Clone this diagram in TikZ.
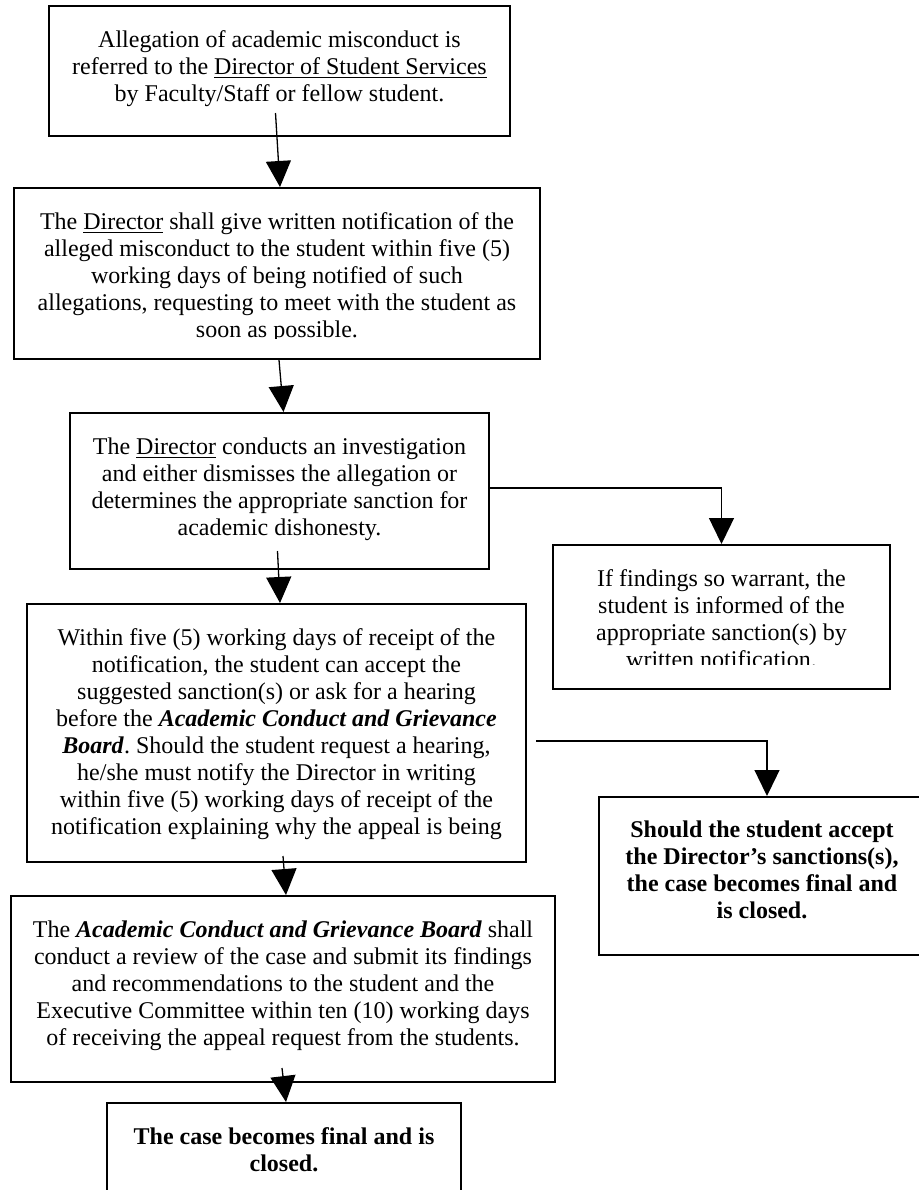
\documentclass[tikz,border=0pt]{standalone}
\usepackage{fontspec}
\setmainfont{Liberation Serif}
\usepackage{tikz}
\usetikzlibrary{arrows.meta}
\usetikzlibrary{positioning}
\tikzset{frame/.style = {draw, rectangle, line width = 1pt, inner sep = 0}}
\tikzset{txt/.style = {align = center, inner sep = 0,
                       font = \fontsize{12pt}{13.5pt}\selectfont}}
\tikzset{arr/.style = {line width = 0.65pt,
                       -{Triangle[length = 13pt, width = 12.5pt]}}}
\newcommand{\bi}[1]{\textbf{\textit{#1}}}
\frenchspacing

\begin{document}
\begin{tikzpicture}[x = 0.5pt, y = -0.5pt]
    \useasboundingbox (0, 0) rectangle (919, 1190);

    % boxes
    \node [frame, minimum width = 230.5pt, minimum height = 65pt] (alleg) at (279.5, 71) {};
    \node [frame, minimum width = 263pt, minimum height = 85.5pt] (notify) at (277, 273.5) {};
    \node [frame, minimum width = 209.5pt, minimum height = 78pt] (invest) at (279.5, 491) {};
    \node [frame, minimum width = 168.5pt, minimum height = 72pt] (findings) at (721.5, 617) {};
    \node [frame, minimum width = 249.5pt, minimum height = 129pt] (hear) at (276.5, 733) {};
    \node [frame, minimum width = 163pt, minimum height = 79pt] (accept) at (762, 876) {};
    \node [frame, minimum width = 272pt, minimum height = 93pt] (board) at (283, 989) {};
    \node [frame, minimum width = 177pt, minimum height = 50pt] (final) at (284, 1153) {};

    % texts
    \node [txt, below = 11.5pt of alleg.north] (alleg-t) {\strut Allegation of academic misconduct is\\
        referred to the \underline{Director of Student Services}\\
        by Faculty/Staff or fellow student.};
    \begin{scope}
      \clip (notify.north west) rectangle ([yshift = 11pt] notify.south east);
      \node [txt, below = 11.5pt of notify.north] (notify-t) {\strut The \underline{Director} shall give written notification of the\\
          alleged misconduct to the student within five (5)\\
          working days of being notified of such\\
          allegations, requesting to meet with the student as\\
          soon as possible.};
    \end{scope}
    \node [txt, below = 11.5pt of invest.north] (invest-t) {\strut The \underline{Director} conducts an investigation\\
        and either dismisses the allegation or\\
        determines the appropriate sanction for\\
        academic dishonesty.};
    \begin{scope}
      \clip (findings.north west) rectangle ([yshift = 13pt] findings.south east);
      \node [txt, below = 11.5pt of findings.north] (findings-t) {\strut If findings so warrant, the\\
          student is informed of the\\
          appropriate sanction(s) by\\
          written notification.};
    \end{scope}
    \node [txt, below = 11.5pt of hear.north] (hear-t) {\strut Within five (5) working days of receipt of the\\
        notification, the student can accept the\\
        suggested sanction(s) or ask for a hearing\\
        before the \bi{Academic Conduct and Grievance}\\
        \bi{Board}. Should the student request a hearing,\\
        he/she must notify the Director in writing\\
        within five (5) working days of receipt of the\\
        notification explaining why the appeal is being};
    \node [txt, font = \fontsize{12pt}{13.5pt}\selectfont\bfseries, below = 11pt of accept.north] (accept-t) {\strut Should the student accept\\
        the Director’s sanctions(s),\\
        the case becomes final and\\
        is closed.};
    \node [txt, below = 11.5pt of board.north] (board-t) {\strut The \bi{Academic Conduct and Grievance Board} shall\\
        conduct a review of the case and submit its findings\\
        and recommendations to the student and the\\
        Executive Committee within ten (10) working days\\
        of receiving the appeal request from the students.};
    \node [txt, font = \fontsize{12pt}{13.5pt}\selectfont\bfseries, below = 11.5pt of final.north] (final-t) {\strut The case becomes final and is\\
        closed.};

    % arrows
    \draw [arr] ([xshift = -2pt, yshift = 12pt] alleg.south) -- ([xshift = 1.5pt] notify.north);
    \draw [arr] ([xshift = 1pt] notify.south) -- ([xshift = 2pt] invest.north);
    \draw [arr] ([yshift = 1.5pt] invest.east) -| (findings.north);
    \draw [arr] ([xshift = -1pt, yshift = 9.5pt] invest.south) -- ([xshift = 1.75pt] hear.north);
    \draw [arr] ([xshift = 4.5pt, yshift = -4pt] hear.east) -| ([xshift = 2.5pt] accept.north);
    \draw [arr] ([xshift = 3.25pt, yshift = 3.5pt] hear.south) -- ([xshift = 1.5pt] board.north);
    \draw [arr] ([xshift = -0.5pt, yshift = 7.5pt] board.south) -- ([xshift = 1pt] final.north);

  \end{tikzpicture}
\end{document}
